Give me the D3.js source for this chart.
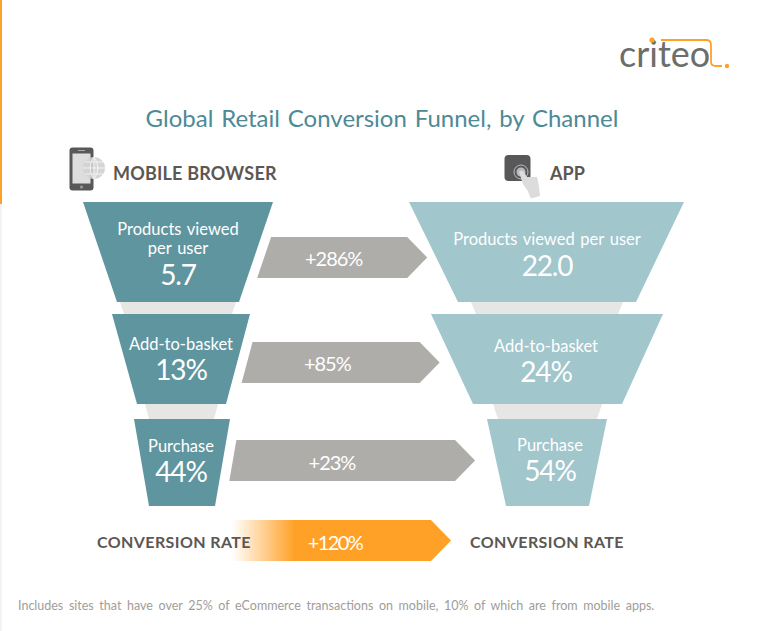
<!DOCTYPE html>
<html>
<head>
<meta charset="utf-8">
<title>Global Retail Conversion Funnel, by Channel</title>
<script src="https://cdn.jsdelivr.net/npm/d3@7"></script>
<style>
  html, body { margin: 0; padding: 0; background: #fff; }
  svg { display: block; }
  text { font-family: Lato, sans-serif; }
  .white { fill: #fff; text-anchor: middle; }
  .head { fill: #5c5752; font-weight: 700; }
</style>
</head>
<body>
<svg id="chart" width="761" height="631"></svg>
<script>
/* ------------- Data ------------- */
const stages = ['Products viewed per user', 'Add-to-basket', 'Purchase'];
const mobileValues = ['5.7', '13%', '44%'];
const appValues = ['22.0', '24%', '54%'];
const lifts = ['+286%', '+85%', '+23%'];
const conversionLift = '+120%';

/* ------------- Layout ------------- */
const W = 761, H = 631;
const colors = { mobile: '#5f959f', app: '#a1c6cc', arrow: '#afada9', neck: '#e6e6e5', orange: '#ffa126' };

const yTop = d3.scaleOrdinal(stages, [202, 314, 419]);
const yBottom = d3.scaleOrdinal(stages, [302, 404, 506]);
const arrowTop = d3.scaleOrdinal(stages, [237, 342, 440]);
const arrowTipGap = d3.scaleOrdinal(stages, [9, 14, 21]);
const liftShift = d3.scaleOrdinal(stages, [-2, -6, -12]);
const liftBase = d3.scaleOrdinal(stages, [266, 371, 470]);
const arrowH = 41, arrowHead = 20, arrowGap = 10;

const edges = {
  mobile: {
    topL: d3.scaleOrdinal(stages, [83, 112, 134]), topR: d3.scaleOrdinal(stages, [273, 250, 230]),
    botL: d3.scaleOrdinal(stages, [117, 137, 149]), botR: d3.scaleOrdinal(stages, [239, 226, 215]),
    neckTop: d3.scaleOrdinal(stages, [3, 8, 0]), neckNarrow: 4
  },
  app: {
    topL: d3.scaleOrdinal(stages, [409, 431, 487]), topR: d3.scaleOrdinal(stages, [684, 663, 607]),
    botL: d3.scaleOrdinal(stages, [458, 473, 506]), botR: d3.scaleOrdinal(stages, [636, 622, 589]),
    neckTop: d3.scaleOrdinal(stages, [13, 20, 0]), neckNarrow: 5
  }
};

// text baselines and centres inside the funnels
const labelBase = { mobile: d3.scaleOrdinal(stages, [235, 350, 452]), app: d3.scaleOrdinal(stages, [245, 352, 451]) };
const valueBase = { mobile: d3.scaleOrdinal(stages, [285, 380, 482]), app: d3.scaleOrdinal(stages, [276, 382, 481]) };
const labelX = { mobile: d3.scaleOrdinal(stages, [178, 181, 181]), app: d3.scaleOrdinal(stages, [547, 546, 550]) };

const line = d3.line().x(d => d[0]).y(d => d[1]);
const svg = d3.select('#chart');

/* ------------- Helpers ------------- */
function edgeAt(channel, side, stage, y) {
  const e = edges[channel];
  const t = (y - yTop(stage)) / (yBottom(stage) - yTop(stage));
  const a = side === 'L' ? e.topL(stage) : e.topR(stage);
  const b = side === 'L' ? e.botL(stage) : e.botR(stage);
  return a + (b - a) * t;
}

function arrowPath(leftTop, leftBottom, tip, top) {
  return line([
    [leftTop, top], [tip - arrowHead, top], [tip, top + arrowH / 2],
    [tip - arrowHead, top + arrowH], [leftBottom, top + arrowH]
  ]) + 'Z';
}

function drawChannel(channel, values, color) {
  const e = edges[channel];
  const g = svg.append('g').attr('class', 'funnel-' + channel);

  // necks between the steps
  g.selectAll('path.neck').data(stages.slice(0, -1)).join('path')
    .attr('class', 'neck')
    .attr('fill', colors.neck)
    .attr('d', (s, i) => {
      const y0 = yBottom(s), y1 = yTop(stages[i + 1]);
      const l = e.botL(s) + e.neckTop(s), r = e.botR(s) - e.neckTop(s);
      return line([[l, y0], [r, y0], [r - e.neckNarrow, y1], [l + e.neckNarrow, y1]]) + 'Z';
    });

  g.selectAll('path.step').data(stages).join('path')
    .attr('class', 'step')
    .attr('fill', color)
    .attr('d', s => line([
      [e.topL(s), yTop(s)], [e.topR(s), yTop(s)],
      [e.botR(s), yBottom(s)], [e.botL(s), yBottom(s)]
    ]) + 'Z');

  g.selectAll('text.value').data(stages).join('text')
    .attr('class', 'value white')
    .attr('x', s => labelX[channel](s))
    .attr('y', s => valueBase[channel](s))
    .attr('font-size', 28)
    .style('letter-spacing', '-1.2px')
    .text((s, i) => values[i]);
}

/* ------------- Draw ------------- */
// page frame
svg.append('rect').attr('width', 2).attr('height', H).attr('fill', '#f3f3f3');
svg.append('rect').attr('width', 2).attr('height', 204).attr('fill', colors.orange);

// logo
const logo = svg.append('g').attr('class', 'logo');
logo.append('text').attr('x', 619).attr('y', 67).attr('font-size', 36).attr('font-weight', 400)
  .attr('fill', '#6d6e6b').text('criteo');
logo.append('path').attr('fill', 'none').attr('stroke', colors.orange).attr('stroke-width', 1.8)
  .attr('d', 'M661,40H706Q711,40 711,45V62Q711,66 716,66H722');
logo.append('circle').attr('cx', 652).attr('cy', 40).attr('r', 2.6).attr('fill', colors.orange);
logo.append('circle').attr('cx', 727).attr('cy', 66).attr('r', 2.2).attr('fill', colors.orange);

// title
svg.append('text').attr('x', 382).attr('y', 127).attr('text-anchor', 'middle')
  .attr('font-size', 24).attr('fill', '#4d8a96').style('word-spacing', '1.7px')
  .text('Global Retail Conversion Funnel, by Channel');

// mobile icon
const phone = svg.append('g').attr('class', 'icon-mobile');
phone.append('rect').attr('x', 69.5).attr('y', 147.5).attr('width', 24).attr('height', 43).attr('rx', 3).attr('fill', '#58585a');
phone.append('rect').attr('x', 72.5).attr('y', 153.5).attr('width', 18).attr('height', 30).attr('fill', '#dddddd');
phone.append('circle').attr('cx', 81.5).attr('cy', 187).attr('r', 1.6).attr('fill', '#999');
phone.append('rect').attr('x', 78).attr('y', 150).attr('width', 7).attr('height', 1).attr('fill', '#aaa');
phone.append('circle').attr('cx', 94).attr('cy', 168).attr('r', 11).attr('fill', '#d2d2d2').attr('fill-opacity', 0.9);
phone.append('path').attr('fill', 'none').attr('stroke', '#f2f2f2').attr('stroke-width', 1)
  .attr('d', 'M83,168H105M85,162H103M85,174H103M94,157V179M94,157Q86,168 94,179M94,157Q102,168 94,179');
svg.append('text').attr('class', 'head').attr('x', 113).attr('y', 179.5).attr('font-size', 18)
  .style('letter-spacing', '0.2px').text('MOBILE BROWSER');

// app icon
const tap = svg.append('g').attr('class', 'icon-app');
tap.append('rect').attr('x', 504.5).attr('y', 155).attr('width', 26).attr('height', 26).attr('rx', 4).attr('fill', '#58585a');
tap.append('circle').attr('cx', 521).attr('cy', 172).attr('r', 7).attr('fill', 'none').attr('stroke', '#bbb').attr('stroke-width', 1);
tap.append('circle').attr('cx', 521).attr('cy', 172).attr('r', 4.5).attr('fill', '#bbb');
tap.append('path').attr('fill', '#dcdcdc')
  .attr('d', 'M519,172Q522,169 524,172L527,177L537,177Q539,184 540,196L531,198.5Q528,190 523,184Z');
svg.append('text').attr('class', 'head').attr('x', 550).attr('y', 179.5).attr('font-size', 18).text('APP');

// funnels
drawChannel('mobile', mobileValues, colors.mobile);
drawChannel('app', appValues, colors.app);

// stage labels
const labelRows = [
  ['mobile', 0, 'Products viewed', 235], ['mobile', 0, 'per user', 254],
  ['mobile', 1, stages[1], labelBase.mobile(stages[1])], ['mobile', 2, stages[2], labelBase.mobile(stages[2])],
  ['app', 0, stages[0], labelBase.app(stages[0])], ['app', 1, stages[1], labelBase.app(stages[1])],
  ['app', 2, stages[2], labelBase.app(stages[2])]
];
svg.selectAll('text.stage').data(labelRows).join('text')
  .attr('class', 'stage white')
  .attr('x', d => labelX[d[0]](stages[d[1]]))
  .attr('y', d => d[3])
  .attr('font-size', 16.5)
  .style('word-spacing', '1.5px')
  .text(d => d[2]);

// lift arrows, they start and stop against the funnel edges
svg.selectAll('path.lift').data(stages).join('path')
  .attr('class', 'lift')
  .attr('fill', colors.arrow)
  .attr('d', s => {
    const top = arrowTop(s);
    return arrowPath(
      edgeAt('mobile', 'R', s, top) + arrowGap,
      edgeAt('mobile', 'R', s, top + arrowH) + arrowGap,
      edgeAt('app', 'L', s, top + arrowH / 2) - arrowTipGap(s),
      top
    );
  });
svg.selectAll('text.lift').data(stages).join('text')
  .attr('class', 'lift white')
  .attr('font-size', 20)
  .style('letter-spacing', '-1px')
  .attr('y', s => liftBase(s))
  .attr('x', s => {
    const top = arrowTop(s);
    const l = edgeAt('mobile', 'R', s, top + arrowH / 2) + arrowGap;
    const r = edgeAt('app', 'L', s, top + arrowH / 2) - arrowTipGap(s) - arrowHead;
    return (l + r) / 2 + liftShift(s);
  })
  .text((s, i) => lifts[i]);

// conversion arrow
const grad = svg.append('defs').append('linearGradient').attr('id', 'fade')
  .attr('gradientUnits', 'userSpaceOnUse').attr('x1', 232).attr('x2', 295).attr('y1', 0).attr('y2', 0);
grad.append('stop').attr('offset', 0).attr('stop-color', colors.orange).attr('stop-opacity', 0);
grad.append('stop').attr('offset', 1).attr('stop-color', colors.orange).attr('stop-opacity', 1);

svg.append('path').attr('fill', 'url(#fade)').attr('d', arrowPath(232, 232, 451, 520));
svg.append('text').attr('class', 'white').attr('x', 335).attr('y', 550).attr('font-size', 20)
  .style('letter-spacing', '-1.6px').text(conversionLift);

svg.selectAll('text.rate').data([97, 470]).join('text')
  .attr('class', 'rate head')
  .attr('x', d => d)
  .attr('y', 548)
  .attr('font-size', 16)
  .style('letter-spacing', '0.4px')
  .text('CONVERSION RATE');

// footnote
svg.append('text').attr('x', 18).attr('y', 610).attr('font-size', 12.5).attr('fill', '#a09d99')
  .style('word-spacing', '2.4px')
  .text('Includes sites that have over 25% of eCommerce transactions on mobile, 10% of which are from mobile apps.');
</script>
</body>
</html>
